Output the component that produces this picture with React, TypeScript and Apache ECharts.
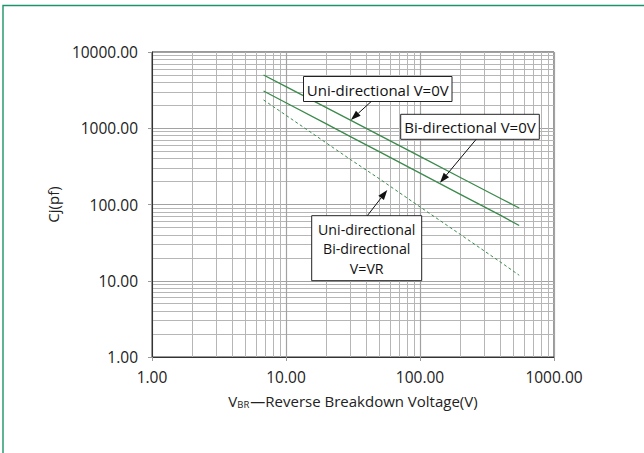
import React, { useEffect, useRef } from 'react';
import * as echarts from 'echarts';

// ---- data ----
const voltages = [6.8, 10, 20, 30, 50, 100, 200, 400, 550];
const uniZeroV = [4990, 3510, 1860, 1285, 805, 427, 226, 120, 90];
const biZeroV = [3080, 2160, 1140, 784, 489, 258, 136, 72, 53];
const atVR = [2350, 1480, 641, 393, 216, 93, 40.5, 17.5, 11.8];

const xTicks = [1, 10, 100, 1000];
const yTicks = [1, 10, 100, 1000, 10000];

const annotationTexts = [
  ['Uni-directional V=0V'],
  ['Bi-directional V=0V'],
  ['Uni-directional', 'Bi-directional', 'V=VR'],
];
// arrow tips in data coordinates [voltage, capacitance]
const arrowTips = [
  [30.5, 1282],
  [141, 193],
  [57, 155],
];

const FONT = '"Open Sans", "Noto Sans", sans-serif';
const GREEN = '#3b8a4c';

const pair = (ys: number[]) => voltages.map((v, i) => [v, ys[i]]);

export default function App() {
  const ref = useRef<HTMLDivElement>(null);

  useEffect(() => {
    document.body.style.margin = '0';
    const chart = echarts.init(ref.current!, null, { renderer: 'svg' });

    const axisCommon = {
      type: 'log' as const,
      logBase: 10,
      axisLine: { show: true, lineStyle: { color: '#333', width: 1 } },
      axisTick: { show: true, length: 4, lineStyle: { color: '#999' } },
      splitLine: { show: true, lineStyle: { color: '#a2a2a2', width: 1.2 } },
      minorTick: { show: false, splitNumber: 9 },
      minorSplitLine: { show: true, lineStyle: { color: '#b6b6b6', width: 1 } },
    };

    const option: any = {
      animation: false,
      backgroundColor: '#fff',
      grid: {
        left: 152,
        top: 52,
        width: 402,
        height: 305,
        show: true,
        borderColor: '#333',
        borderWidth: 1,
        backgroundColor: 'transparent',
      },
      xAxis: {
        ...axisCommon,
        min: xTicks[0],
        max: xTicks[xTicks.length - 1],
        axisLabel: {
          margin: 12,
          fontFamily: FONT,
          fontSize: 15.5,
          color: '#222',
          formatter: (v: number) => v.toFixed(2),
        },
        name: '{v|V}{s|BR}{t|—Reverse Breakdown Voltage(V)}',
        nameLocation: 'middle',
        nameGap: 35,
        nameTextStyle: {
          fontFamily: FONT,
          color: '#222',
          rich: {
            v: { fontFamily: FONT, fontSize: 15, color: '#222' },
            s: { fontFamily: FONT, fontSize: 9.5, color: '#222', padding: [7, 1, 0, 0] },
            t: { fontFamily: FONT, fontSize: 15, color: '#222' },
          },
        },
      },
      yAxis: {
        ...axisCommon,
        min: yTicks[0],
        max: yTicks[yTicks.length - 1],
        axisLabel: {
          margin: 14,
          fontFamily: FONT,
          fontSize: 15.5,
          color: '#222',
          formatter: (v: number) => v.toFixed(2),
        },
        name: 'Cj(pf)',
        nameLocation: 'middle',
        nameGap: 82,
        nameTextStyle: { fontFamily: FONT, fontSize: 15, color: '#222' },
      },
      series: [
        {
          name: 'Uni-directional V=0V',
          type: 'line',
          data: pair(uniZeroV),
          showSymbol: false,
          lineStyle: { color: GREEN, width: 1.3 },
          z: 3,
        },
        {
          name: 'Bi-directional V=0V',
          type: 'line',
          data: pair(biZeroV),
          showSymbol: false,
          lineStyle: { color: GREEN, width: 1.3 },
          z: 3,
        },
        {
          name: 'V=VR',
          type: 'line',
          data: pair(atVR),
          showSymbol: false,
          lineStyle: { color: GREEN, width: 1, type: [3, 2.5] },
          z: 3,
        },
      ],
    };

    chart.setOption(option);

    // annotation layout (pixels)
    const boxes = [
      { x: 303.5, y: 76.5, w: 148.5, h: 25, fs: 15 },
      { x: 400.7, y: 114.3, w: 138.6, h: 25, fs: 15 },
      { x: 311.7, y: 215.7, w: 110, h: 65, fs: 14.2 },
    ];
    const lineGap = 19.5;
    const tails = [
      [371, 101.7],
      [476, 139.5],
      [367.3, 215.7],
    ];

    const elements: any[] = [
      {
        type: 'rect',
        shape: { x: 3, y: 5.5, width: 700, height: 600 },
        style: { fill: 'none', stroke: '#1d9467', lineWidth: 1.4 },
        silent: true,
        z: 1,
      },
    ];

    boxes.forEach((b, i) => {
      elements.push({
        type: 'rect',
        shape: { x: b.x, y: b.y, width: b.w, height: b.h },
        style: { fill: '#fff', stroke: '#222', lineWidth: 1 },
        z: 10,
      });
      const lines = annotationTexts[i];
      const cy = b.y + b.h / 2 + 0.5;
      lines.forEach((t, k) => {
        elements.push({
          type: 'text',
          x: b.x + b.w / 2,
          y: cy + (k - (lines.length - 1) / 2) * lineGap,
          style: {
            text: t,
            fontFamily: FONT,
            fontSize: b.fs,
            fill: '#111',
            align: 'center',
            verticalAlign: 'middle',
          },
          z: 11,
        });
      });
      const tip = chart.convertToPixel({ gridIndex: 0 }, arrowTips[i]) as number[];
      const [sx, sy] = tails[i];
      const dx = tip[0] - sx;
      const dy = tip[1] - sy;
      const len = Math.sqrt(dx * dx + dy * dy);
      const ux = dx / len;
      const uy = dy / len;
      const hl = 10;
      const hw = 3.5;
      const bx = tip[0] - ux * hl;
      const by = tip[1] - uy * hl;
      elements.push({
        type: 'line',
        shape: { x1: sx, y1: sy, x2: bx, y2: by },
        style: { stroke: '#111', lineWidth: 1 },
        z: 10,
      });
      elements.push({
        type: 'polygon',
        shape: {
          points: [
            [tip[0], tip[1]],
            [bx - uy * hw, by + ux * hw],
            [bx + uy * hw, by - ux * hw],
          ],
        },
        style: { fill: '#111' },
        z: 10,
      });
    });

    chart.setOption({ graphic: { elements } });

    return () => chart.dispose();
  }, []);

  return (
    <div
      ref={ref}
      style={{ position: 'absolute', left: 0, top: 0, width: 644, height: 453 }}
    />
  );
}
